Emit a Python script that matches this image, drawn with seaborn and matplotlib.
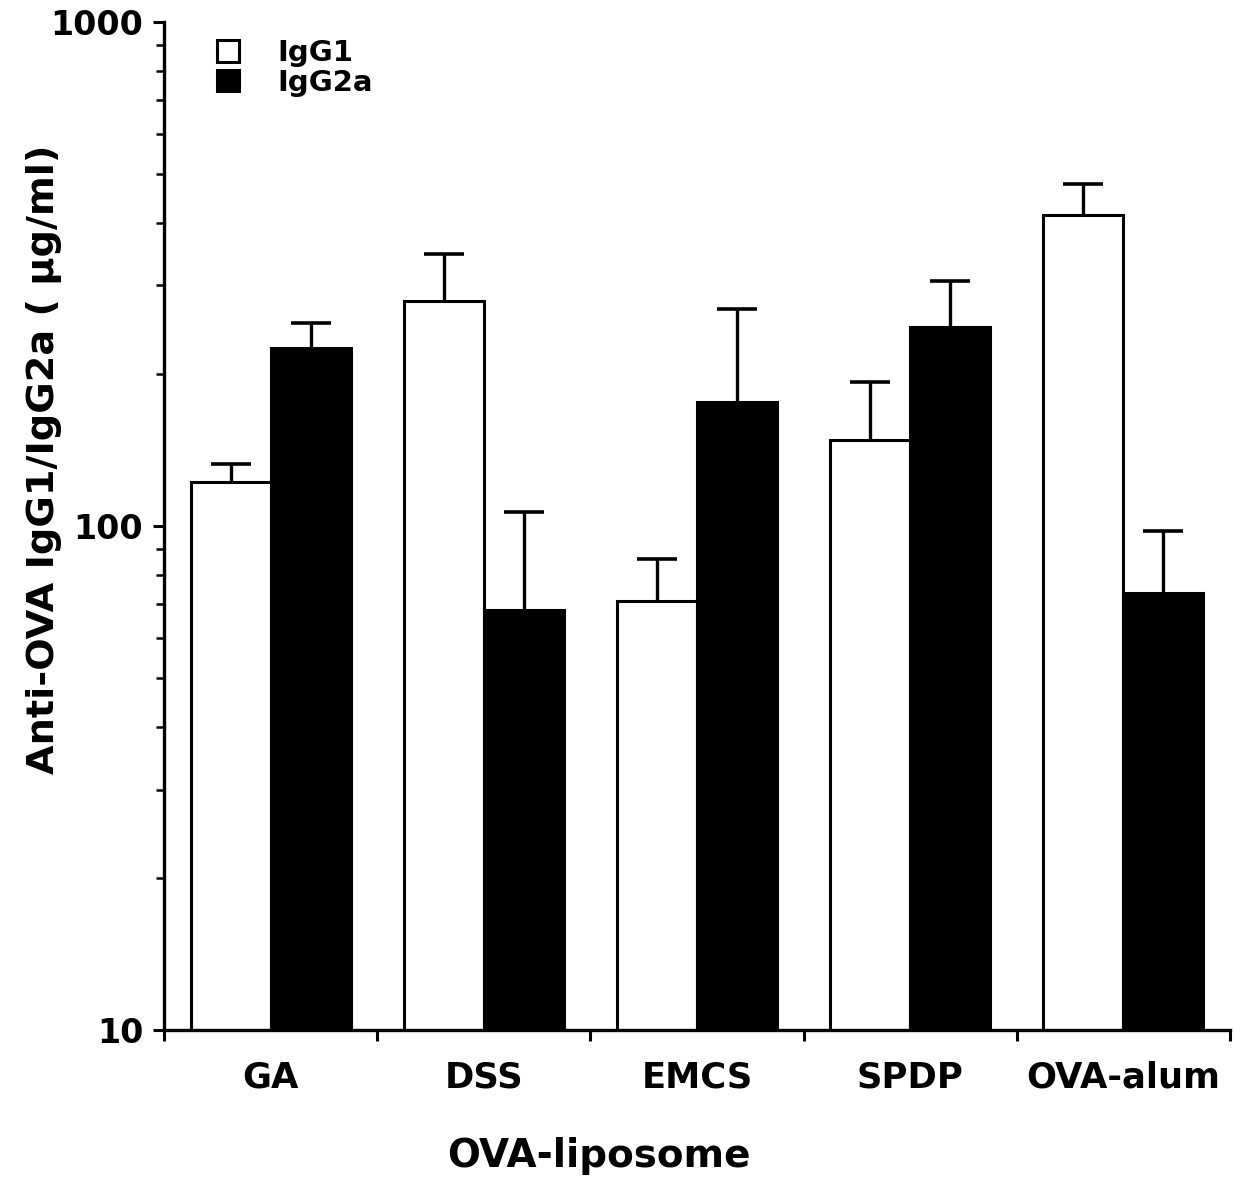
import matplotlib
matplotlib.use("Agg")
import matplotlib.pyplot as plt
import matplotlib.ticker as mticker
import numpy as np
import pandas as pd
import seaborn as sns

categories = ["GA", "DSS", "EMCS", "SPDP", "OVA-alum"]
isotypes = ["IgG1", "IgG2a"]
igg1 = [122, 279, 71, 148, 414]
igg1_err_top = [133, 346, 86, 193, 477]
igg2a = [226, 68, 176, 248, 73.6]
igg2a_err_top = [253, 106.6, 269, 306, 97.7]

df = pd.DataFrame({
    "category": categories * 2,
    "isotype": ["IgG1"] * len(categories) + ["IgG2a"] * len(categories),
    "value": igg1 + igg2a,
})
tops = {"IgG1": igg1_err_top, "IgG2a": igg2a_err_top}
vals = {"IgG1": igg1, "IgG2a": igg2a}

sns.set_style("ticks", {"axes.edgecolor": "black", "text.color": "black",
                        "axes.labelcolor": "black", "xtick.color": "black",
                        "ytick.color": "black"})
plt.rcParams["font.family"] = ["DejaVu Sans"]
plt.rcParams["font.weight"] = "bold"

fig = plt.figure(figsize=(12.34, 11.8), dpi=100)
ax = fig.add_axes([0.1329, 0.1271, 0.9968 - 0.1329, 0.9814 - 0.1271])

sns.barplot(data=df, x="category", y="value", hue="isotype",
            order=categories, hue_order=isotypes,
            palette={"IgG1": "white", "IgG2a": "black"},
            edgecolor="black", linewidth=2.2, width=0.75,
            errorbar=None, ax=ax, zorder=2)

ax.set_yscale("log")

for cont, iso in zip(ax.containers, isotypes):
    xs = [p.get_x() + p.get_width() / 2 for p in cont.patches]
    w = cont.patches[0].get_width()
    v = np.array(vals[iso])
    t = np.array(tops[iso])
    ax.vlines(xs, v, t, color="black", lw=2.4, zorder=3)
    ax.hlines(t, np.array(xs) - w * 0.25, np.array(xs) + w * 0.25,
              color="black", lw=2.6, zorder=3)

ax.set_ylim(10, 1000)
ax.set_xlim(-0.5, 4.5)

ax.yaxis.set_major_locator(mticker.FixedLocator([10, 100, 1000]))
ax.yaxis.set_major_formatter(mticker.FixedFormatter(["10", "100", "1000"]))
ax.yaxis.set_minor_locator(mticker.LogLocator(base=10, subs=np.arange(2, 10)))
ax.yaxis.set_minor_formatter(mticker.NullFormatter())

ax.set_xticks(range(len(categories)))
ax.set_xticklabels(categories)
ax.set_xticks(np.arange(-0.5, len(categories), 1.0), minor=True)

ax.tick_params(axis="y", which="major", length=8, width=2.2, labelsize=24,
               pad=7, direction="out", colors="black")
ax.tick_params(axis="y", which="minor", length=6, width=1.8, direction="out",
               colors="black")
ax.tick_params(axis="x", which="major", length=0, labelsize=25.5, pad=22,
               colors="black")
ax.tick_params(axis="x", which="minor", length=8, width=2.2, direction="out",
               colors="black")
for lab in ax.get_xticklabels() + ax.get_yticklabels():
    lab.set_fontweight("bold")

sns.despine(ax=ax)
for s in ["left", "bottom"]:
    ax.spines[s].set_linewidth(2.4)
    ax.spines[s].set_color("black")

ax.set_ylabel("Anti-OVA IgG1/IgG2a ( µg/ml)", fontsize=27.5, fontweight="bold",
              color="black")
ax.set_xlabel("OVA-liposome", fontsize=28, fontweight="bold", color="black")
ax.yaxis.set_label_coords(-0.0957, 0.566)
ax.xaxis.set_label_coords(0.408, -0.106)

leg_old = ax.get_legend()
handles = leg_old.legend_handles
leg_old.remove()
leg = ax.legend(handles, isotypes, loc="upper left", bbox_to_anchor=(0.05, 0.983),
                frameon=False, handlelength=0.75, handleheight=0.75,
                handletextpad=1.3, labelspacing=0.05, borderpad=0, borderaxespad=0,
                prop={"weight": "bold", "size": 21})
for t in leg.get_texts():
    t.set_color("black")

fig.savefig("out.png", dpi=100)
